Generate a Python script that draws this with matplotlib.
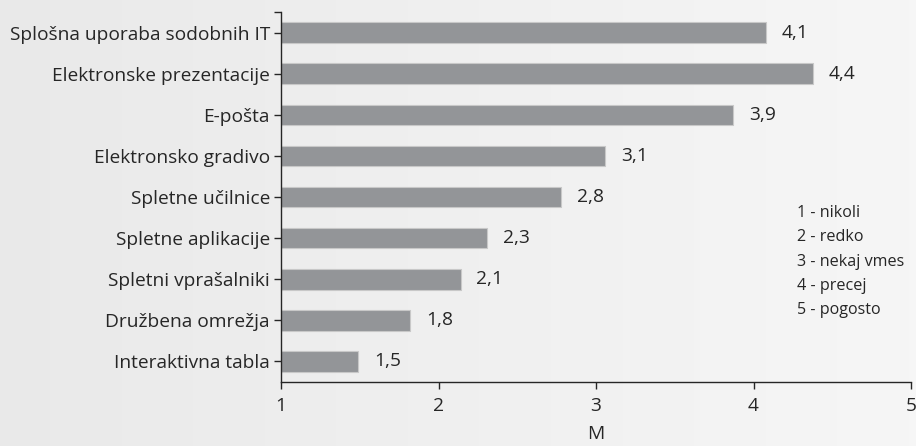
import matplotlib.pyplot as plt
import numpy as np

categories = ["Splošna uporaba sodobnih IT", "Elektronske prezentacije", "E-pošta",
              "Elektronsko gradivo", "Spletne učilnice", "Spletne aplikacije",
              "Spletni vprašalniki", "Družbena omrežja", "Interaktivna tabla"]
values = [4.08, 4.38, 3.87, 3.06, 2.78, 2.31, 2.14, 1.82, 1.49]
scale_labels = ["1 - nikoli", "2 - redko", "3 - nekaj vmes", "4 - precej", "5 - pogosto"]

plt.rcParams['font.family'] = ['Open Sans', 'DejaVu Sans']
txt = '#262626'
fs = 13.8

fig = plt.figure(figsize=(9.16, 4.46), dpi=100)
# gradient background
bg = fig.add_axes([0, 0, 1, 1], zorder=-5)
grad = np.linspace(0.915, 0.965, 256).reshape(1, -1)
bg.imshow(np.dstack([grad, grad, grad]), aspect='auto', extent=[0, 1, 0, 1])
bg.axis('off')

ax = fig.add_axes([281 / 916, 1 - 382 / 446, 630 / 916, 370 / 446])
ax.patch.set_alpha(0)
y = np.arange(len(categories))[::-1]
ax.barh(y, [v - 1 for v in values], left=1, height=0.5, color='#939598',
        edgecolor='#c8c8c8', linewidth=0.8)
for yi, v in zip(y, values):
    ax.text(v + 0.1, yi, f"{v:.1f}".replace('.', ','), va='center', ha='left',
            fontsize=fs, color=txt)

ax.set_xlim(1, 5)
ax.set_ylim(-0.5, len(categories) - 0.5)
ax.set_xticks([1, 2, 3, 4, 5])
ax.set_yticks(y)
ax.set_yticklabels(categories)
ax.set_yticks([len(categories) - 0.5], minor=True)
ax.tick_params(axis='both', labelsize=fs, colors=txt, length=5, width=1)
ax.tick_params(axis='y', which='minor', length=5, width=1, color=txt)
ax.tick_params(axis='y', pad=3)
ax.tick_params(axis='x', pad=6)
for s in ['top', 'right']:
    ax.spines[s].set_visible(False)
for s in ['left', 'bottom']:
    ax.spines[s].set_color(txt)
    ax.spines[s].set_linewidth(1)
ax.set_xlabel("M", fontsize=fs, color=txt, labelpad=7)

for i, lab in enumerate(scale_labels):
    fig.text(797 / 916, 1 - (213 + i * 24.3) / 446, lab, fontsize=11.6, color=txt,
             va='center', ha='left')

fig.savefig("out.png", dpi=100)
